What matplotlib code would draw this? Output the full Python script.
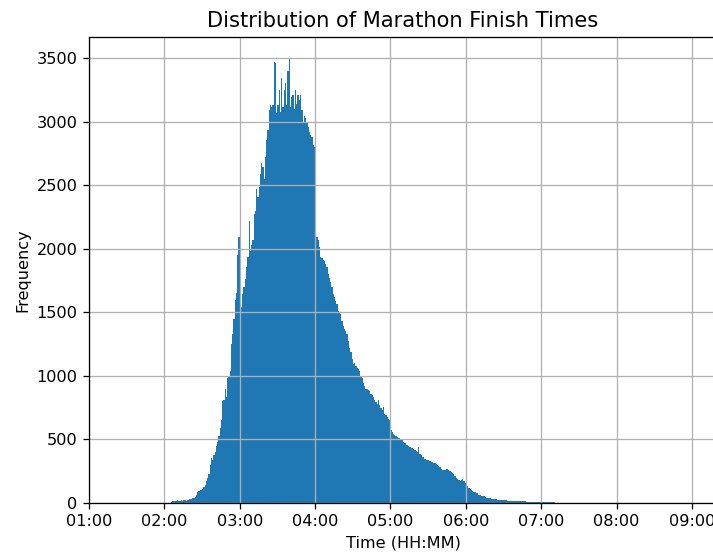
import datetime as dt

import numpy as np
import matplotlib
matplotlib.use("Agg")
import matplotlib.pyplot as plt
import matplotlib.dates as mdates

# finish-time histogram, 1-minute bins starting at 02:00 (one row = 10 minutes)
start_time = "02:00"
bin_minutes = 1
counts = [
    0, 1, 1, 2, 3, 5, 12, 15, 18, 17,                              # 02:00
    20, 16, 19, 22, 18, 20, 21, 19, 22, 24,                        # 02:10
    28, 35, 40, 42, 45, 60, 85, 95, 100, 105,                      # 02:20
    110, 125, 145, 170, 195, 230, 300, 355, 340, 380,              # 02:30
    400, 450, 480, 525, 590, 650, 800, 810, 895, 830,              # 02:40
    985, 1000, 1040, 1250, 1330, 1450, 1600, 1650, 1950, 2090,     # 02:50
    1470, 1540, 1645, 1700, 1760, 1855, 1935, 2220, 1980, 2030,    # 03:00
    2065, 2275, 2300, 2470, 2405, 2485, 2590, 2670, 2640, 2550,    # 03:10
    2720, 2855, 2930, 3090, 3130, 3115, 3130, 3465, 3460, 3065,    # 03:20
    3130, 3250, 3075, 3340, 3115, 3250, 3300, 3130, 3395, 3490,    # 03:30
    3115, 3195, 3210, 3100, 3250, 3140, 3210, 3170, 3210, 3090,    # 03:40
    2985, 3040, 3025, 3000, 2960, 2920, 2895, 2880, 2815, 2800,    # 03:50
    2115, 2090, 2065, 2010, 1935, 1925, 1910, 1900, 1880, 1855,    # 04:00
    1800, 1770, 1735, 1695, 1640, 1620, 1590, 1565, 1510, 1500,    # 04:10
    1485, 1435, 1395, 1370, 1355, 1330, 1275, 1220, 1185, 1130,    # 04:20
    1090, 1100, 1080, 1060, 1050, 1035, 1000, 980, 940, 920,       # 04:30
    900, 895, 890, 880, 860, 850, 830, 810, 797, 780,              # 04:40
    810, 770, 750, 730, 757, 700, 690, 675, 660, 650,              # 04:50
    573, 560, 545, 533, 528, 520, 515, 510, 507, 495,              # 05:00
    480, 470, 460, 454, 448, 440, 435, 430, 428, 415,              # 05:10
    405, 400, 440, 385, 375, 365, 358, 348, 342, 338,              # 05:20
    335, 330, 325, 322, 318, 314, 305, 296, 290, 280,              # 05:30
    270, 262, 256, 260, 266, 270, 258, 250, 240, 235,              # 05:40
    226, 215, 200, 186, 180, 173, 180, 186, 170, 160,              # 05:50
    150, 130, 120, 110, 100, 93, 88, 84, 80, 75,                   # 06:00
    66, 62, 58, 55, 52, 45, 43, 40, 38, 36,                        # 06:10
    35, 33, 31, 30, 29, 27, 26, 25, 24, 23,                        # 06:20
    22, 21, 20, 19, 19, 18, 17, 16, 16, 15,                        # 06:30
    15, 14, 14, 13, 13, 12, 12, 12, 11, 11,                        # 06:40
    11, 11, 10, 10, 11, 10, 9, 9, 8, 8,                            # 06:50
    8, 7, 7, 6, 6, 5, 5, 5, 4, 4,                                  # 07:00
    4, 3, 3, 3, 3, 2, 2, 2, 2, 2,                                  # 07:10
    2, 1, 1, 1, 1, 1, 1, 0, 1, 0,                                  # 07:20
]
x_range = ("01:00", "09:20")


def to_time(hhmm):
    h, m = map(int, hhmm.split(":"))
    return dt.datetime(2000, 1, 1, h, m)


def main():
    t0 = to_time(start_time)
    edges = [t0 + dt.timedelta(minutes=bin_minutes * i) for i in range(len(counts) + 1)]
    edges = mdates.date2num(edges)

    # reference is a default-size figure cropped on the right, so the axes run past the edge
    dpi = 116
    fig = plt.figure(figsize=(713 / dpi, 558 / dpi), dpi=dpi)
    ax = fig.add_axes([89 / 713, 55 / 558, 628 / 713, 466 / 558])

    ax.hist(edges[:-1], bins=edges, weights=counts, color="#1f77b4")

    ax.xaxis_date()
    ax.xaxis.set_major_locator(mdates.HourLocator())
    ax.xaxis.set_major_formatter(mdates.DateFormatter("%H:%M"))
    ax.set_xlim(mdates.date2num(to_time(x_range[0])), mdates.date2num(to_time(x_range[1])))

    ax.set_xlabel("Time (HH:MM)")
    ax.set_ylabel("Frequency")
    ax.set_title("Distribution of Marathon Finish Times", fontsize=13)
    ax.grid()

    fig.savefig("out.png", dpi=dpi)


if __name__ == "__main__":
    main()
